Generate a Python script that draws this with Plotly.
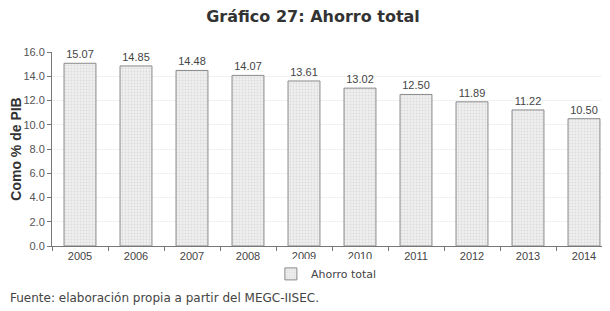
import plotly.graph_objects as go

years = ["2005", "2006", "2007", "2008", "2009", "2010", "2011", "2012", "2013", "2014"]
ahorro = [15.07, 14.85, 14.48, 14.07, 13.61, 13.02, 12.50, 11.89, 11.22, 10.50]
y_ticks = [0, 2, 4, 6, 8, 10, 12, 14, 16]

fig = go.Figure()
fig.add_trace(go.Bar(
    x=years, y=ahorro, name="Ahorro total",
    text=[f"{v:.2f}" for v in ahorro], textposition="outside",
    textfont=dict(size=11, color="#444444"),
    marker=dict(color="#ececec", line=dict(color="#8a8a8a", width=1),
                pattern=dict(shape=".", fgcolor="#c8c8c8", bgcolor="#efefef", size=3, solidity=0.3)),
    width=0.57, cliponaxis=False,
))
fig.update_layout(
    width=610, height=311,
    margin=dict(l=44, r=6, t=44, b=73, autoexpand=False),
    paper_bgcolor="white", plot_bgcolor="white",
    font=dict(family="Liberation Sans, Arial, sans-serif", color="#333333", size=11),
    title=dict(text="<b>Gráfico 27: Ahorro total</b>", x=0.5, xanchor="center", xref="container",
               y=0.972, yanchor="middle",
               font=dict(size=16, color="#333333", family="DejaVu Sans, sans-serif")),
    showlegend=True,
    legend=dict(orientation="h", x=0.49, xanchor="center", yref="container", y=0.145, yanchor="middle",
                font=dict(size=11, color="#444444", family="DejaVu Sans, sans-serif")),
    bargap=0.43,
)
fig.update_yaxes(range=[0, 16], tickvals=y_ticks, ticktext=[f"{v:.1f}" for v in y_ticks],
                 showgrid=True, gridcolor="#f2f2f2", ticks="outside", ticklen=4, tickcolor="#777",
                 showline=True, linecolor="#777", linewidth=1, zeroline=False,
                 tickfont=dict(size=11, color="#555"),
                 title=dict(text="<b>Como % de PIB</b>", font=dict(size=14, color="#333"), standoff=8))
fig.update_xaxes(showline=True, linecolor="#777", linewidth=1, ticks="outside", ticklen=4,
                 tickcolor="#777", tickson="boundaries", tickfont=dict(size=11, color="#444"))
fig.add_annotation(text="Fuente: elaboración propia a partir del MEGC-IISEC.", xref="paper", yref="paper",
                   x=-0.079, y=-0.268, xanchor="left", yanchor="middle", showarrow=False,
                   font=dict(size=12, color="#444", family="DejaVu Sans, sans-serif"))
fig.write_html("out.html")
